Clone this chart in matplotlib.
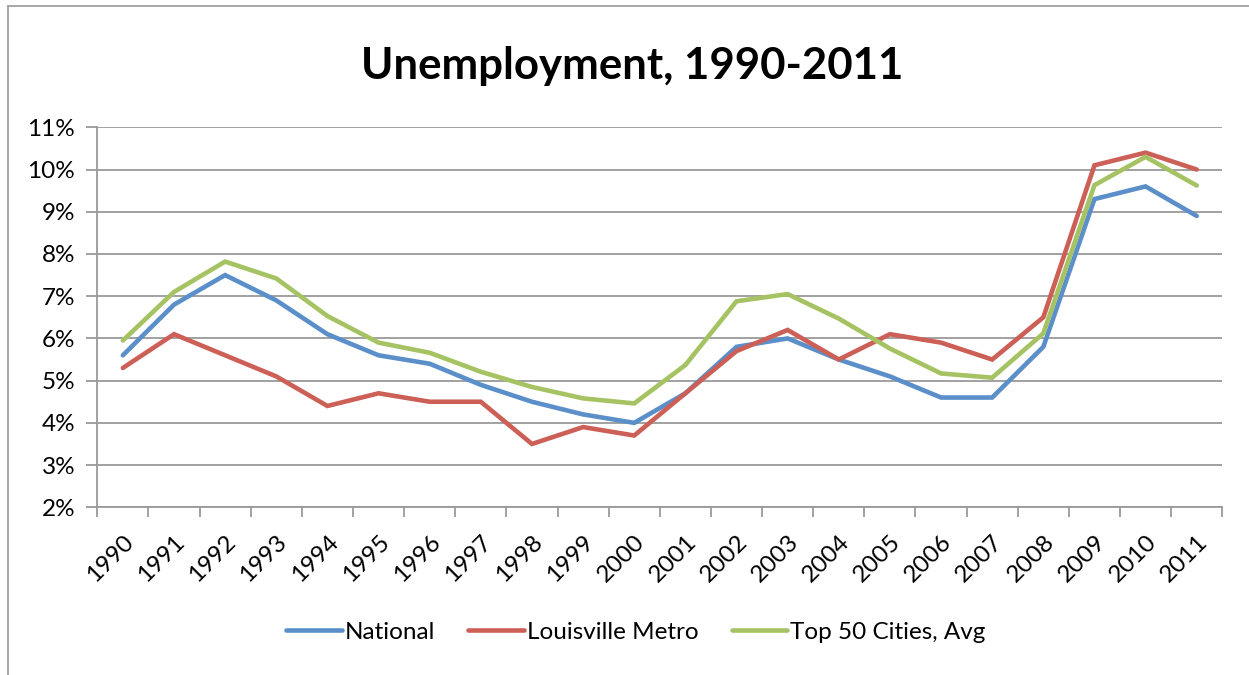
import matplotlib
matplotlib.use("Agg")
import matplotlib.pyplot as plt
from matplotlib.ticker import FuncFormatter, FixedLocator, MultipleLocator
from matplotlib.lines import Line2D

years = [str(y) for y in range(1990, 2012)]
national = [5.6, 6.8, 7.5, 6.9, 6.1, 5.6, 5.4, 4.9, 4.5, 4.2, 4.0,
            4.7, 5.8, 6.0, 5.5, 5.1, 4.6, 4.6, 5.8, 9.3, 9.6, 8.9]
louisville = [5.3, 6.1, 5.6, 5.1, 4.4, 4.7, 4.5, 4.5, 3.5, 3.9, 3.7,
              4.7, 5.7, 6.2, 5.5, 6.1, 5.9, 5.5, 6.5, 10.1, 10.4, 10.0]
top50 = [5.95, 7.1, 7.82, 7.42, 6.53, 5.9, 5.66, 5.21, 4.85, 4.58, 4.46,
         5.37, 6.88, 7.05, 6.47, 5.76, 5.17, 5.07, 6.12, 9.63, 10.3, 9.62]
series_names = ["National", "Louisville Metro", "Top 50 Cities, Avg"]
colors = ["#5b8fc9", "#cc5f56", "#a6c364"]

plt.rcParams['font.family'] = ['Lato', 'DejaVu Sans']

fig = plt.figure(figsize=(12.49, 6.75), dpi=100)
ax = fig.add_axes([97.3 / 1249, 1 - 507.3 / 675, 1125 / 1249, 380 / 675])

x = list(range(len(years)))
for vals, name, c in zip([national, louisville, top50], series_names, colors):
    ax.plot(x, [v / 100 for v in vals], color=c, lw=3.3, label=name,
            solid_capstyle='round', solid_joinstyle='miter')

ax.set_xlim(-0.5, len(years) - 0.5)
ax.set_ylim(0.02, 0.11)
ax.yaxis.set_major_locator(MultipleLocator(0.01))
ax.yaxis.set_major_formatter(FuncFormatter(lambda v, p: f"{round(v*100)}%"))

ax.set_xticks(x)
ax.set_xticklabels(years, rotation=45, ha='right', rotation_mode='anchor')
ax.xaxis.set_minor_locator(FixedLocator([i - 0.5 for i in range(len(years) + 1)]))
ax.tick_params(axis='x', which='major', length=0, pad=17, labelsize=17.5)
ax.tick_params(axis='x', which='minor', length=7, width=1.3, color='#9a9a9a')
ax.tick_params(axis='y', length=8, width=1.3, color='#9a9a9a', labelsize=17.5, pad=8)

ax.grid(axis='y', color='#9a9a9a', lw=1.3)
ax.set_axisbelow(True)
for s in ['top', 'right']:
    ax.spines[s].set_visible(False)
for s in ['left', 'bottom']:
    ax.spines[s].set_color('#9a9a9a')
    ax.spines[s].set_linewidth(1.3)

fig.text(632 / 1249, 1 - 66 / 675, "Unemployment, 1990-2011", ha='center', va='center',
         fontsize=31.5, fontweight='bold')

handles = [Line2D([0], [0], color=c, lw=3.3, solid_capstyle='round') for c in colors]
fig.legend(handles, series_names, loc='center', bbox_to_anchor=(636 / 1249, 1 - 632 / 675),
           ncol=3, frameon=False, fontsize=17.5, handlelength=2.3, handletextpad=0.12,
           columnspacing=1.35)

# chart border (left and top)
fig.add_artist(Line2D([8 / 1249, 8 / 1249], [0, 1 - 6 / 675], color='#a0a0a0', lw=1.3,
                      transform=fig.transFigure))
fig.add_artist(Line2D([8 / 1249, 1], [1 - 6 / 675, 1 - 6 / 675], color='#a0a0a0', lw=1.3,
                      transform=fig.transFigure))

fig.savefig("out.png", dpi=100)
